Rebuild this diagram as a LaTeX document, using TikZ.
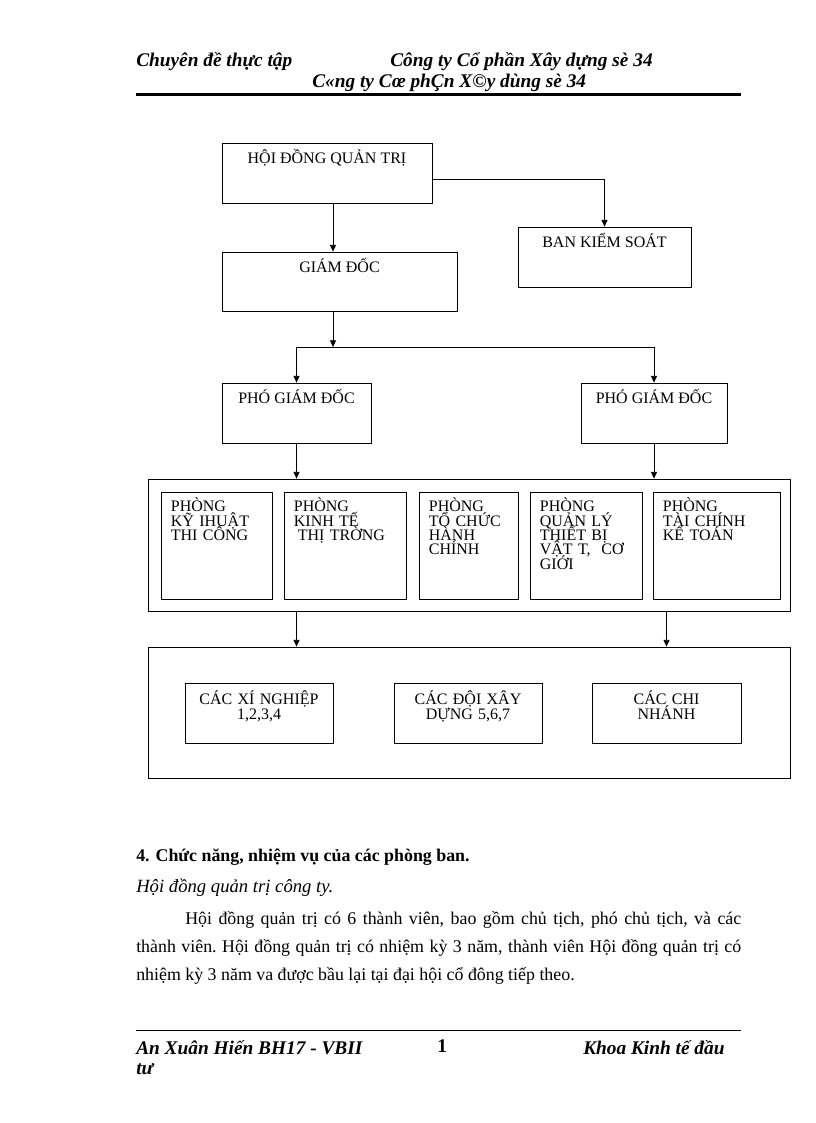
\documentclass[tikz,border=0pt]{standalone}
\usepackage{fontspec}
\setmainfont{Liberation Serif}
\usetikzlibrary{arrows.meta,fit,positioning}
\newcommand\tightskip{\lineskiplimit=-20pt\relax}

\begin{document}
\begin{tikzpicture}[x=0.75pt,y=-0.75pt,
    box/.style={draw, line width=0.6pt, inner sep=0pt},
    title/.style={anchor=base, inner sep=0pt, font=\fontsize{12}{12}\selectfont},
    dept/.style={anchor=base west, inner sep=0pt, text width=75pt, align=left,
      font={\fontsize{12}{10.8}\selectfont\tightskip}},
    unit/.style={anchor=base, inner sep=0pt, text width=100pt, align=center,
      font={\fontsize{12}{11.3}\selectfont\tightskip}},
    hdr/.style={anchor=base west, inner sep=0pt, font=\fontsize{14.5}{14.5}\selectfont\bfseries\itshape},
    arr/.style={-{Triangle[length=5pt,width=4.5pt]}, line width=0.6pt}]
  \fill[white] (0,0) rectangle (816,1123);
  \useasboundingbox (0,0) rectangle (816,1123);

  % header and footer
  \node[hdr] (h1) at (136,67) {Chuyên đề thực tập};
  \node[hdr] (h2) at (390,67) {Công ty Cổ phần Xây dựng sè 34};
  \node[hdr] (h3) at (312,88) {C«ng ty Cœ phÇn X©y dùng sè 34};
  \draw[line width=1.8pt] (136,94.5) -- (741,94.5);
  \draw[line width=0.6pt] (136,1030) -- (741,1030);
  \node[hdr] (f1) at (136,1054) {An Xuân Hiến BH17 - VBII};
  \node[hdr] (f2) at (136,1074) {tư};
  \node[hdr, font=\fontsize{14.5}{14.5}\selectfont\bfseries] (f3) at (437,1052) {1};
  \node[hdr] (f4) at (583,1054) {Khoa Kinh tế đầu};

  % boxes
  \node[box, fit={(222,143) (432,203)}] (hdqt) {};
  \node[box, fit={(518,227) (691,287)}] (bks) {};
  \node[box, fit={(222,252) (457,311)}] (gd) {};
  \node[box, fit={(222,383) (371,443)}] (pgd1) {};
  \node[box, fit={(581,383) (727,443)}] (pgd2) {};
  \node[box, fit={(148,479) (790,611)}] (phongban) {};
  \node[box, fit={(161,492) (272,599)}] (pb1) {};
  \node[box, fit={(284,492) (406,599)}] (pb2) {};
  \node[box, fit={(419,492) (518,599)}] (pb3) {};
  \node[box, fit={(530,492) (642,599)}] (pb4) {};
  \node[box, fit={(653,492) (780,599)}] (pb5) {};
  \node[box, fit={(148,647) (790,778)}] (donvi) {};
  \node[box, fit={(185,683) (333,743)}] (dv1) {};
  \node[box, fit={(394,683) (542,743)}] (dv2) {};
  \node[box, fit={(592,683) (741,743)}] (dv3) {};

  \node[title] at ([yshift=-15.75pt]hdqt.north) {HỘI ĐỒNG QUẢN TRỊ};
  \node[title] at ([yshift=-15.75pt]bks.north) {BAN KIỂM SOÁT};
  \node[title] at ([yshift=-15.75pt]gd.north) {GIÁM ĐỐC};
  \node[title] at ([yshift=-15.75pt]pgd1.north) {PHÓ GIÁM ĐỐC};
  \node[title] at ([yshift=-15.75pt]pgd2.north) {PHÓ GIÁM ĐỐC};

  \node[dept] at ([xshift=7.5pt,yshift=-15pt]pb1.north west) {PHÒNG\\KỸ IHUẬT\\THI CÔNG};
  \node[dept] at ([xshift=7.5pt,yshift=-15pt]pb2.north west) {PHÒNG\\KINH TẾ\\\hspace*{3pt}THỊ TRỜNG};
  \node[dept] at ([xshift=7.5pt,yshift=-15pt]pb3.north west) {PHÒNG\\TỔ CHỨC\\HÀNH\\CHÍNH};
  \node[dept] at ([xshift=7.5pt,yshift=-15pt]pb4.north west) {PHÒNG\\QUẢN LÝ\\THIẾT BỊ\\VẬT T,\hspace{8pt}CƠ\\GIỚI};
  \node[dept] at ([xshift=7.5pt,yshift=-15pt]pb5.north west) {PHÒNG\\TÀI CHÍNH\\KẾ TOÁN};

  \node[unit] at ([yshift=-16.5pt]dv1.north) {CÁC XÍ NGHIỆP\\1,2,3,4};
  \node[unit] at ([yshift=-16.5pt]dv2.north) {CÁC ĐỘI XÂY\\DỰNG 5,6,7};
  \node[unit] at ([yshift=-16.5pt]dv3.north) {CÁC CHI\\NHÁNH};

  % connectors
  \coordinate (split) at (333,347);
  \draw[arr] (hdqt.south -| split) -- (gd.north -| split);
  \draw[arr] ([yshift=-4.5pt]hdqt.east) -| (bks.north);
  \draw[arr] (gd.south -| split) -- (split);
  \draw[arr] (split) -| (pgd1.north);
  \draw[arr] (split) -| (pgd2.north);
  \draw[arr] (pgd1.south) -- (pgd1.south |- phongban.north);
  \draw[arr] (pgd2.south) -- (pgd2.south |- phongban.north);
  \draw[arr] (pgd1.south |- phongban.south) -- (pgd1.south |- donvi.north);
  \draw[arr] (dv3.north |- phongban.south) -- (dv3.north |- donvi.north);

  % text below the chart
  \node[anchor=base west, inner sep=0pt, font=\fontsize{13.4}{13.4}\selectfont\bfseries] (muc)
    at (136,861) {4. Chức năng, nhiệm vụ của các phòng ban.};
  \node[anchor=base west, inner sep=0pt, font=\fontsize{14}{14}\selectfont\itshape] (hd)
    at (136,892) {Hội đồng quản trị công ty.};
  \node[anchor=base west, inner sep=0pt, text width=453.75pt, align=justify,
    font=\fontsize{13.4}{21}\selectfont\frenchspacing] (doan) at (136,924)
    {\hspace*{36.75pt}Hội đồng quản trị có 6 thành viên, bao gồm chủ tịch, phó chủ tịch, và các\linebreak
     thành viên. Hội đồng quản trị có nhiệm kỳ 3 năm, thành viên Hội đồng quản trị có\linebreak
     nhiệm kỳ 3 năm va được bầu lại tại đại hội cổ đông tiếp theo.};
\end{tikzpicture}
\end{document}
